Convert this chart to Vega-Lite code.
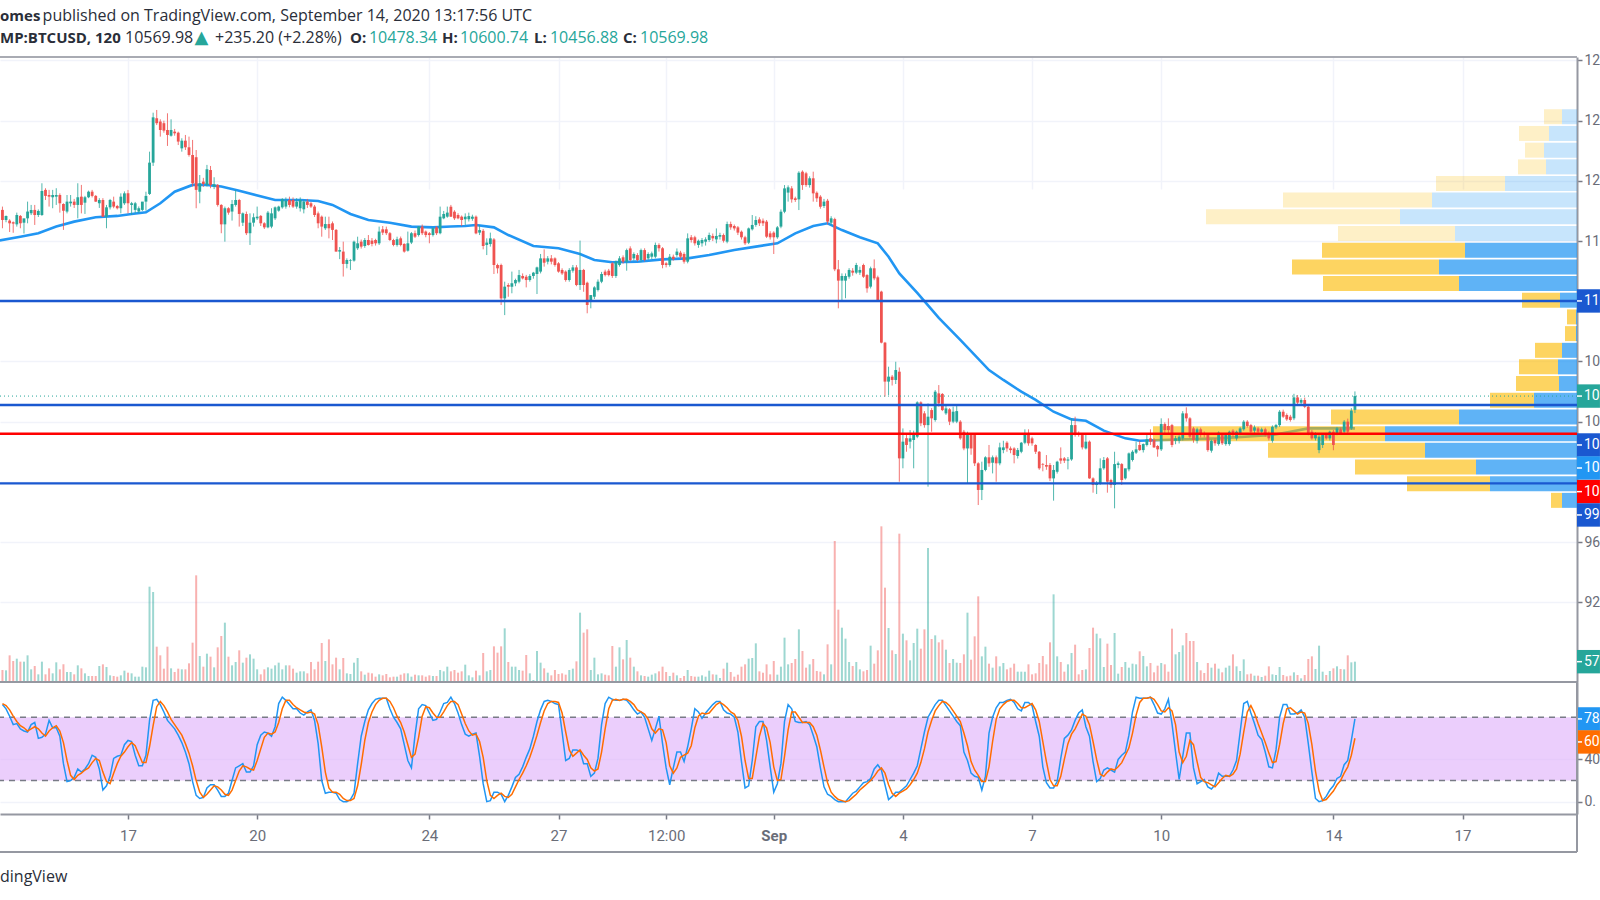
{"$schema":"https://vega.github.io/schema/vega-lite/v6.json","width":1577,"height":757,"autosize":"none","padding":{"left":0,"top":57,"right":23,"bottom":86},"background":"white","config":{"view":{"stroke":null},"font":"Roboto","scale":{"continuousPadding":0}},
"datasets":{
"bars":[
{"t":"2020-08-14T02:00Z","o":11807,"h":11829,"l":11685,"c":11740,"v":36,"k":92,"d":93},
{"t":"2020-08-14T04:00Z","o":11740,"h":11770,"l":11725,"c":11767,"v":35,"k":88,"d":91},
{"t":"2020-08-14T06:00Z","o":11736,"h":11745,"l":11660,"c":11718,"v":80,"k":81,"d":87},
{"t":"2020-08-14T08:00Z","o":11725,"h":11730,"l":11655,"c":11716,"v":63,"k":73,"d":81},
{"t":"2020-08-14T10:00Z","o":11711,"h":11789,"l":11696,"c":11773,"v":70,"k":74,"d":76},
{"t":"2020-08-14T12:00Z","o":11767,"h":11773,"l":11685,"c":11718,"v":61,"k":69,"d":72},
{"t":"2020-08-14T14:00Z","o":11722,"h":11745,"l":11650,"c":11751,"v":61,"k":67,"d":70},
{"t":"2020-08-14T16:00Z","o":11751,"h":11862,"l":11718,"c":11796,"v":80,"k":66,"d":67},
{"t":"2020-08-14T18:00Z","o":11784,"h":11840,"l":11773,"c":11807,"v":38,"k":73,"d":69},
{"t":"2020-08-14T20:00Z","o":11807,"h":11840,"l":11707,"c":11773,"v":48,"k":75,"d":71},
{"t":"2020-08-14T22:00Z","o":11773,"h":11810,"l":11760,"c":11800,"v":23,"k":60,"d":69},
{"t":"2020-08-15T00:00Z","o":11773,"h":11984,"l":11767,"c":11933,"v":61,"k":61,"d":65},
{"t":"2020-08-15T02:00Z","o":11940,"h":11951,"l":11873,"c":11900,"v":23,"k":64,"d":62},
{"t":"2020-08-15T04:00Z","o":11906,"h":11940,"l":11829,"c":11895,"v":41,"k":77,"d":67},
{"t":"2020-08-15T06:00Z","o":11891,"h":11940,"l":11818,"c":11906,"v":26,"k":70,"d":70},
{"t":"2020-08-15T08:00Z","o":11895,"h":11951,"l":11840,"c":11906,"v":59,"k":70,"d":72},
{"t":"2020-08-15T10:00Z","o":11906,"h":11917,"l":11789,"c":11851,"v":38,"k":62,"d":67},
{"t":"2020-08-15T12:00Z","o":11846,"h":11851,"l":11674,"c":11802,"v":53,"k":36,"d":56},
{"t":"2020-08-15T14:00Z","o":11796,"h":11906,"l":11784,"c":11862,"v":30,"k":19,"d":39},
{"t":"2020-08-15T16:00Z","o":11851,"h":11906,"l":11829,"c":11862,"v":30,"k":20,"d":25},
{"t":"2020-08-15T18:00Z","o":11862,"h":11880,"l":11820,"c":11840,"v":23,"k":23,"d":21},
{"t":"2020-08-15T20:00Z","o":11840,"h":11984,"l":11751,"c":11891,"v":50,"k":31,"d":25},
{"t":"2020-08-15T22:00Z","o":11895,"h":11973,"l":11784,"c":11840,"v":41,"k":28,"d":27},
{"t":"2020-08-16T00:00Z","o":11855,"h":11900,"l":11780,"c":11891,"v":26,"k":31,"d":30},
{"t":"2020-08-16T02:00Z","o":11891,"h":11935,"l":11885,"c":11928,"v":18,"k":36,"d":32},
{"t":"2020-08-16T04:00Z","o":11928,"h":11940,"l":11890,"c":11900,"v":18,"k":44,"d":37},
{"t":"2020-08-16T06:00Z","o":11900,"h":11906,"l":11860,"c":11862,"v":18,"k":42,"d":41},
{"t":"2020-08-16T08:00Z","o":11851,"h":11885,"l":11820,"c":11873,"v":48,"k":31,"d":39},
{"t":"2020-08-16T10:00Z","o":11873,"h":11885,"l":11760,"c":11762,"v":53,"k":11,"d":28},
{"t":"2020-08-16T12:00Z","o":11762,"h":11840,"l":11685,"c":11824,"v":45,"k":15,"d":19},
{"t":"2020-08-16T14:00Z","o":11824,"h":11880,"l":11810,"c":11873,"v":20,"k":24,"d":17},
{"t":"2020-08-16T16:00Z","o":11862,"h":11895,"l":11818,"c":11829,"v":18,"k":41,"d":27},
{"t":"2020-08-16T18:00Z","o":11833,"h":11840,"l":11810,"c":11818,"v":16,"k":43,"d":36},
{"t":"2020-08-16T20:00Z","o":11818,"h":11917,"l":11784,"c":11895,"v":20,"k":44,"d":43},
{"t":"2020-08-16T22:00Z","o":11851,"h":11930,"l":11840,"c":11917,"v":34,"k":54,"d":47},
{"t":"2020-08-17T00:00Z","o":11917,"h":11940,"l":11784,"c":11851,"v":28,"k":58,"d":52},
{"t":"2020-08-17T02:00Z","o":11840,"h":11860,"l":11774,"c":11851,"v":26,"k":57,"d":56},
{"t":"2020-08-17T04:00Z","o":11807,"h":11860,"l":11784,"c":11851,"v":16,"k":44,"d":53},
{"t":"2020-08-17T06:00Z","o":11796,"h":11830,"l":11785,"c":11818,"v":16,"k":34,"d":45},
{"t":"2020-08-17T08:00Z","o":11807,"h":11860,"l":11800,"c":11862,"v":46,"k":34,"d":37},
{"t":"2020-08-17T10:00Z","o":11862,"h":11928,"l":11802,"c":11900,"v":44,"k":44,"d":37},
{"t":"2020-08-17T12:00Z","o":11913,"h":12194,"l":11906,"c":12121,"v":286,"k":77,"d":52},
{"t":"2020-08-17T14:00Z","o":12121,"h":12453,"l":12099,"c":12422,"v":270,"k":96,"d":72},
{"t":"2020-08-17T16:00Z","o":12416,"h":12471,"l":12371,"c":12383,"v":106,"k":97,"d":90},
{"t":"2020-08-17T18:00Z","o":12394,"h":12409,"l":12294,"c":12338,"v":80,"k":92,"d":95},
{"t":"2020-08-17T20:00Z","o":12383,"h":12400,"l":12320,"c":12334,"v":40,"k":85,"d":91},
{"t":"2020-08-17T22:00Z","o":12338,"h":12449,"l":12232,"c":12305,"v":106,"k":77,"d":85},
{"t":"2020-08-18T00:00Z","o":12300,"h":12409,"l":12294,"c":12338,"v":41,"k":73,"d":78},
{"t":"2020-08-18T02:00Z","o":12327,"h":12345,"l":12300,"c":12316,"v":30,"k":69,"d":73},
{"t":"2020-08-18T04:00Z","o":12320,"h":12327,"l":12238,"c":12261,"v":40,"k":63,"d":68},
{"t":"2020-08-18T06:00Z","o":12216,"h":12283,"l":12194,"c":12267,"v":38,"k":56,"d":63},
{"t":"2020-08-18T08:00Z","o":12267,"h":12305,"l":12205,"c":12223,"v":38,"k":47,"d":55},
{"t":"2020-08-18T10:00Z","o":12223,"h":12294,"l":12161,"c":12172,"v":56,"k":36,"d":46},
{"t":"2020-08-18T12:00Z","o":12172,"h":12272,"l":11962,"c":11984,"v":118,"k":19,"d":34},
{"t":"2020-08-18T14:00Z","o":12157,"h":12205,"l":11818,"c":11940,"v":320,"k":6,"d":20},
{"t":"2020-08-18T16:00Z","o":11928,"h":12039,"l":11851,"c":11984,"v":78,"k":3,"d":9},
{"t":"2020-08-18T18:00Z","o":11995,"h":12020,"l":11960,"c":11979,"v":46,"k":4,"d":4},
{"t":"2020-08-18T20:00Z","o":11973,"h":12106,"l":11962,"c":12077,"v":85,"k":13,"d":7},
{"t":"2020-08-18T22:00Z","o":12072,"h":12099,"l":11951,"c":11973,"v":76,"k":16,"d":11},
{"t":"2020-08-19T00:00Z","o":11962,"h":12024,"l":11945,"c":11977,"v":44,"k":16,"d":15},
{"t":"2020-08-19T02:00Z","o":11973,"h":11979,"l":11829,"c":11840,"v":104,"k":11,"d":14},
{"t":"2020-08-19T04:00Z","o":11840,"h":11845,"l":11652,"c":11711,"v":138,"k":5,"d":11},
{"t":"2020-08-19T06:00Z","o":11711,"h":11829,"l":11596,"c":11818,"v":178,"k":5,"d":7},
{"t":"2020-08-19T08:00Z","o":11818,"h":11825,"l":11775,"c":11789,"v":76,"k":8,"d":6},
{"t":"2020-08-19T10:00Z","o":11796,"h":11873,"l":11736,"c":11846,"v":50,"k":20,"d":11},
{"t":"2020-08-19T12:00Z","o":11840,"h":11940,"l":11829,"c":11873,"v":60,"k":32,"d":20},
{"t":"2020-08-19T14:00Z","o":11873,"h":11880,"l":11696,"c":11780,"v":95,"k":34,"d":29},
{"t":"2020-08-19T16:00Z","o":11722,"h":11790,"l":11700,"c":11784,"v":58,"k":36,"d":34},
{"t":"2020-08-19T18:00Z","o":11780,"h":11796,"l":11640,"c":11652,"v":73,"k":28,"d":33},
{"t":"2020-08-19T20:00Z","o":11652,"h":11784,"l":11574,"c":11722,"v":83,"k":28,"d":31},
{"t":"2020-08-19T22:00Z","o":11722,"h":11784,"l":11696,"c":11758,"v":70,"k":34,"d":30},
{"t":"2020-08-20T00:00Z","o":11751,"h":11829,"l":11740,"c":11762,"v":38,"k":54,"d":39},
{"t":"2020-08-20T02:00Z","o":11767,"h":11773,"l":11700,"c":11718,"v":23,"k":63,"d":50},
{"t":"2020-08-20T04:00Z","o":11718,"h":11725,"l":11680,"c":11691,"v":38,"k":66,"d":61},
{"t":"2020-08-20T06:00Z","o":11691,"h":11800,"l":11685,"c":11789,"v":44,"k":65,"d":65},
{"t":"2020-08-20T08:00Z","o":11696,"h":11818,"l":11685,"c":11784,"v":40,"k":62,"d":64},
{"t":"2020-08-20T10:00Z","o":11751,"h":11830,"l":11740,"c":11824,"v":50,"k":71,"d":66},
{"t":"2020-08-20T12:00Z","o":11802,"h":11835,"l":11795,"c":11829,"v":58,"k":93,"d":75},
{"t":"2020-08-20T14:00Z","o":11824,"h":11885,"l":11815,"c":11878,"v":38,"k":99,"d":88},
{"t":"2020-08-20T16:00Z","o":11829,"h":11890,"l":11815,"c":11868,"v":50,"k":96,"d":96},
{"t":"2020-08-20T18:00Z","o":11873,"h":11895,"l":11824,"c":11840,"v":50,"k":92,"d":96},
{"t":"2020-08-20T20:00Z","o":11873,"h":11890,"l":11820,"c":11829,"v":40,"k":88,"d":92},
{"t":"2020-08-20T22:00Z","o":11829,"h":11885,"l":11815,"c":11862,"v":28,"k":88,"d":89},
{"t":"2020-08-21T00:00Z","o":11818,"h":11890,"l":11796,"c":11873,"v":32,"k":84,"d":87},
{"t":"2020-08-21T02:00Z","o":11811,"h":11873,"l":11784,"c":11862,"v":32,"k":82,"d":85},
{"t":"2020-08-21T04:00Z","o":11862,"h":11880,"l":11820,"c":11840,"v":26,"k":85,"d":84},
{"t":"2020-08-21T06:00Z","o":11851,"h":11860,"l":11820,"c":11829,"v":60,"k":87,"d":85},
{"t":"2020-08-21T08:00Z","o":11829,"h":11840,"l":11760,"c":11773,"v":38,"k":77,"d":83},
{"t":"2020-08-21T10:00Z","o":11784,"h":11796,"l":11685,"c":11718,"v":61,"k":55,"d":73},
{"t":"2020-08-21T12:00Z","o":11762,"h":11770,"l":11629,"c":11696,"v":117,"k":20,"d":52},
{"t":"2020-08-21T14:00Z","o":11685,"h":11762,"l":11674,"c":11713,"v":63,"k":8,"d":28},
{"t":"2020-08-21T16:00Z","o":11713,"h":11762,"l":11618,"c":11685,"v":128,"k":9,"d":13},
{"t":"2020-08-21T18:00Z","o":11718,"h":11730,"l":11607,"c":11674,"v":53,"k":9,"d":9},
{"t":"2020-08-21T20:00Z","o":11674,"h":11680,"l":11530,"c":11530,"v":73,"k":8,"d":9},
{"t":"2020-08-21T22:00Z","o":11530,"h":11560,"l":11480,"c":11540,"v":38,"k":2,"d":7},
{"t":"2020-08-22T00:00Z","o":11530,"h":11596,"l":11364,"c":11448,"v":72,"k":0,"d":3},
{"t":"2020-08-22T02:00Z","o":11448,"h":11485,"l":11419,"c":11474,"v":26,"k":0,"d":1},
{"t":"2020-08-22T04:00Z","o":11470,"h":11480,"l":11408,"c":11474,"v":24,"k":2,"d":1},
{"t":"2020-08-22T06:00Z","o":11470,"h":11603,"l":11463,"c":11596,"v":58,"k":8,"d":3},
{"t":"2020-08-22T08:00Z","o":11552,"h":11629,"l":11541,"c":11585,"v":72,"k":36,"d":15},
{"t":"2020-08-22T10:00Z","o":11596,"h":11610,"l":11550,"c":11563,"v":32,"k":62,"d":35},
{"t":"2020-08-22T12:00Z","o":11567,"h":11620,"l":11555,"c":11607,"v":22,"k":76,"d":58},
{"t":"2020-08-22T14:00Z","o":11607,"h":11640,"l":11570,"c":11574,"v":28,"k":87,"d":75},
{"t":"2020-08-22T16:00Z","o":11603,"h":11620,"l":11565,"c":11581,"v":26,"k":93,"d":85},
{"t":"2020-08-22T18:00Z","o":11607,"h":11615,"l":11570,"c":11585,"v":16,"k":97,"d":92},
{"t":"2020-08-22T20:00Z","o":11585,"h":11696,"l":11574,"c":11663,"v":23,"k":98,"d":96},
{"t":"2020-08-22T22:00Z","o":11678,"h":11700,"l":11640,"c":11656,"v":20,"k":98,"d":98},
{"t":"2020-08-23T00:00Z","o":11678,"h":11696,"l":11640,"c":11652,"v":24,"k":98,"d":98},
{"t":"2020-08-23T02:00Z","o":11652,"h":11660,"l":11600,"c":11607,"v":14,"k":88,"d":95},
{"t":"2020-08-23T04:00Z","o":11607,"h":11615,"l":11565,"c":11574,"v":16,"k":80,"d":89},
{"t":"2020-08-23T06:00Z","o":11574,"h":11629,"l":11563,"c":11612,"v":16,"k":75,"d":81},
{"t":"2020-08-23T08:00Z","o":11618,"h":11630,"l":11565,"c":11574,"v":22,"k":69,"d":75},
{"t":"2020-08-23T10:00Z","o":11581,"h":11585,"l":11523,"c":11530,"v":26,"k":54,"d":66},
{"t":"2020-08-23T12:00Z","o":11536,"h":11663,"l":11530,"c":11585,"v":26,"k":39,"d":54},
{"t":"2020-08-23T14:00Z","o":11590,"h":11660,"l":11580,"c":11652,"v":16,"k":32,"d":42},
{"t":"2020-08-23T16:00Z","o":11652,"h":11670,"l":11620,"c":11629,"v":22,"k":63,"d":45},
{"t":"2020-08-23T18:00Z","o":11640,"h":11700,"l":11630,"c":11696,"v":20,"k":88,"d":61},
{"t":"2020-08-23T20:00Z","o":11696,"h":11710,"l":11640,"c":11652,"v":20,"k":92,"d":81},
{"t":"2020-08-23T22:00Z","o":11663,"h":11670,"l":11625,"c":11640,"v":16,"k":91,"d":90},
{"t":"2020-08-24T00:00Z","o":11652,"h":11660,"l":11585,"c":11640,"v":20,"k":84,"d":89},
{"t":"2020-08-24T02:00Z","o":11640,"h":11690,"l":11630,"c":11685,"v":18,"k":77,"d":84},
{"t":"2020-08-24T04:00Z","o":11691,"h":11700,"l":11640,"c":11652,"v":18,"k":78,"d":80},
{"t":"2020-08-24T06:00Z","o":11652,"h":11829,"l":11645,"c":11762,"v":36,"k":85,"d":80},
{"t":"2020-08-24T08:00Z","o":11751,"h":11800,"l":11745,"c":11780,"v":32,"k":93,"d":85},
{"t":"2020-08-24T10:00Z","o":11762,"h":11829,"l":11755,"c":11789,"v":46,"k":94,"d":91},
{"t":"2020-08-24T12:00Z","o":11828,"h":11840,"l":11760,"c":11762,"v":32,"k":99,"d":95},
{"t":"2020-08-24T14:00Z","o":11795,"h":11805,"l":11740,"c":11751,"v":36,"k":93,"d":95},
{"t":"2020-08-24T16:00Z","o":11773,"h":11785,"l":11745,"c":11751,"v":28,"k":84,"d":92},
{"t":"2020-08-24T18:00Z","o":11762,"h":11770,"l":11700,"c":11740,"v":32,"k":73,"d":83},
{"t":"2020-08-24T20:00Z","o":11745,"h":11784,"l":11707,"c":11762,"v":52,"k":64,"d":74},
{"t":"2020-08-24T22:00Z","o":11745,"h":11789,"l":11730,"c":11766,"v":20,"k":62,"d":67},
{"t":"2020-08-25T00:00Z","o":11748,"h":11775,"l":11735,"c":11762,"v":14,"k":64,"d":63},
{"t":"2020-08-25T02:00Z","o":11762,"h":11770,"l":11645,"c":11651,"v":34,"k":65,"d":64},
{"t":"2020-08-25T04:00Z","o":11656,"h":11707,"l":11640,"c":11673,"v":20,"k":43,"d":57},
{"t":"2020-08-25T06:00Z","o":11668,"h":11680,"l":11545,"c":11567,"v":87,"k":17,"d":42},
{"t":"2020-08-25T08:00Z","o":11574,"h":11618,"l":11507,"c":11590,"v":32,"k":0,"d":20},
{"t":"2020-08-25T10:00Z","o":11580,"h":11656,"l":11563,"c":11618,"v":36,"k":1,"d":6},
{"t":"2020-08-25T12:00Z","o":11611,"h":11620,"l":11381,"c":11441,"v":107,"k":9,"d":3},
{"t":"2020-08-25T14:00Z","o":11441,"h":11450,"l":11385,"c":11419,"v":88,"k":9,"d":6},
{"t":"2020-08-25T16:00Z","o":11441,"h":11450,"l":11175,"c":11219,"v":107,"k":7,"d":8},
{"t":"2020-08-25T18:00Z","o":11219,"h":11330,"l":11108,"c":11297,"v":161,"k":0,"d":5},
{"t":"2020-08-25T20:00Z","o":11308,"h":11320,"l":11230,"c":11297,"v":60,"k":6,"d":4},
{"t":"2020-08-25T22:00Z","o":11297,"h":11397,"l":11253,"c":11319,"v":46,"k":14,"d":7},
{"t":"2020-08-26T00:00Z","o":11319,"h":11350,"l":11300,"c":11341,"v":46,"k":23,"d":14},
{"t":"2020-08-26T02:00Z","o":11330,"h":11408,"l":11319,"c":11374,"v":36,"k":26,"d":21},
{"t":"2020-08-26T04:00Z","o":11368,"h":11385,"l":11345,"c":11352,"v":34,"k":33,"d":27},
{"t":"2020-08-26T06:00Z","o":11363,"h":11375,"l":11292,"c":11341,"v":81,"k":42,"d":34},
{"t":"2020-08-26T08:00Z","o":11341,"h":11380,"l":11330,"c":11368,"v":26,"k":50,"d":42},
{"t":"2020-08-26T10:00Z","o":11368,"h":11395,"l":11350,"c":11390,"v":6,"k":62,"d":52},
{"t":"2020-08-26T12:00Z","o":11381,"h":11430,"l":11248,"c":11425,"v":93,"k":76,"d":63},
{"t":"2020-08-26T14:00Z","o":11397,"h":11514,"l":11385,"c":11485,"v":58,"k":87,"d":75},
{"t":"2020-08-26T16:00Z","o":11485,"h":11545,"l":11430,"c":11456,"v":41,"k":95,"d":86},
{"t":"2020-08-26T18:00Z","o":11463,"h":11500,"l":11445,"c":11485,"v":28,"k":96,"d":93},
{"t":"2020-08-26T20:00Z","o":11485,"h":11507,"l":11445,"c":11463,"v":20,"k":95,"d":95},
{"t":"2020-08-26T22:00Z","o":11485,"h":11492,"l":11430,"c":11441,"v":36,"k":93,"d":95},
{"t":"2020-08-27T00:00Z","o":11452,"h":11460,"l":11390,"c":11397,"v":24,"k":92,"d":94},
{"t":"2020-08-27T02:00Z","o":11408,"h":11419,"l":11375,"c":11385,"v":26,"k":66,"d":84},
{"t":"2020-08-27T04:00Z","o":11397,"h":11405,"l":11330,"c":11341,"v":22,"k":39,"d":66},
{"t":"2020-08-27T06:00Z","o":11341,"h":11420,"l":11330,"c":11408,"v":36,"k":41,"d":49},
{"t":"2020-08-27T08:00Z","o":11403,"h":11441,"l":11390,"c":11425,"v":40,"k":49,"d":43},
{"t":"2020-08-27T10:00Z","o":11425,"h":11440,"l":11300,"c":11308,"v":62,"k":49,"d":46},
{"t":"2020-08-27T12:00Z","o":11308,"h":11603,"l":11275,"c":11408,"v":208,"k":48,"d":49},
{"t":"2020-08-27T14:00Z","o":11408,"h":11415,"l":11263,"c":11308,"v":148,"k":36,"d":44},
{"t":"2020-08-27T16:00Z","o":11323,"h":11330,"l":11120,"c":11175,"v":158,"k":36,"d":40},
{"t":"2020-08-27T18:00Z","o":11197,"h":11240,"l":11153,"c":11241,"v":36,"k":24,"d":32},
{"t":"2020-08-27T20:00Z","o":11230,"h":11300,"l":11215,"c":11292,"v":73,"k":27,"d":29},
{"t":"2020-08-27T22:00Z","o":11275,"h":11345,"l":11265,"c":11330,"v":23,"k":41,"d":31},
{"t":"2020-08-28T00:00Z","o":11330,"h":11395,"l":11320,"c":11381,"v":26,"k":73,"d":47},
{"t":"2020-08-28T02:00Z","o":11397,"h":11410,"l":11365,"c":11374,"v":22,"k":93,"d":69},
{"t":"2020-08-28T04:00Z","o":11403,"h":11415,"l":11365,"c":11374,"v":20,"k":99,"d":88},
{"t":"2020-08-28T06:00Z","o":11452,"h":11460,"l":11355,"c":11368,"v":108,"k":97,"d":96},
{"t":"2020-08-28T08:00Z","o":11368,"h":11470,"l":11355,"c":11463,"v":46,"k":96,"d":97},
{"t":"2020-08-28T10:00Z","o":11441,"h":11500,"l":11430,"c":11485,"v":104,"k":96,"d":96},
{"t":"2020-08-28T12:00Z","o":11492,"h":11505,"l":11450,"c":11463,"v":68,"k":97,"d":97},
{"t":"2020-08-28T14:00Z","o":11463,"h":11550,"l":11403,"c":11540,"v":126,"k":96,"d":97},
{"t":"2020-08-28T16:00Z","o":11551,"h":11565,"l":11465,"c":11474,"v":73,"k":92,"d":95},
{"t":"2020-08-28T18:00Z","o":11485,"h":11525,"l":11470,"c":11514,"v":46,"k":87,"d":92},
{"t":"2020-08-28T20:00Z","o":11507,"h":11520,"l":11465,"c":11474,"v":32,"k":83,"d":87},
{"t":"2020-08-28T22:00Z","o":11474,"h":11550,"l":11460,"c":11540,"v":20,"k":85,"d":85},
{"t":"2020-08-29T00:00Z","o":11540,"h":11552,"l":11465,"c":11474,"v":18,"k":80,"d":83},
{"t":"2020-08-29T02:00Z","o":11485,"h":11525,"l":11475,"c":11514,"v":16,"k":69,"d":78},
{"t":"2020-08-29T04:00Z","o":11496,"h":11530,"l":11480,"c":11518,"v":22,"k":58,"d":69},
{"t":"2020-08-29T06:00Z","o":11496,"h":11590,"l":11485,"c":11574,"v":26,"k":69,"d":65},
{"t":"2020-08-29T08:00Z","o":11574,"h":11585,"l":11530,"c":11552,"v":32,"k":81,"d":69},
{"t":"2020-08-29T10:00Z","o":11552,"h":11560,"l":11419,"c":11441,"v":46,"k":55,"d":68},
{"t":"2020-08-29T12:00Z","o":11452,"h":11460,"l":11425,"c":11441,"v":30,"k":32,"d":56},
{"t":"2020-08-29T14:00Z","o":11441,"h":11514,"l":11430,"c":11496,"v":18,"k":16,"d":34},
{"t":"2020-08-29T16:00Z","o":11496,"h":11510,"l":11470,"c":11480,"v":28,"k":32,"d":27},
{"t":"2020-08-29T18:00Z","o":11507,"h":11551,"l":11495,"c":11530,"v":20,"k":47,"d":32},
{"t":"2020-08-29T20:00Z","o":11523,"h":11535,"l":11480,"c":11496,"v":12,"k":47,"d":42},
{"t":"2020-08-29T22:00Z","o":11514,"h":11525,"l":11450,"c":11463,"v":18,"k":38,"d":44},
{"t":"2020-08-30T00:00Z","o":11463,"h":11651,"l":11452,"c":11618,"v":36,"k":52,"d":46},
{"t":"2020-08-30T02:00Z","o":11625,"h":11640,"l":11590,"c":11607,"v":18,"k":69,"d":53},
{"t":"2020-08-30T04:00Z","o":11625,"h":11635,"l":11570,"c":11585,"v":16,"k":88,"d":70},
{"t":"2020-08-30T06:00Z","o":11574,"h":11610,"l":11555,"c":11602,"v":16,"k":85,"d":81},
{"t":"2020-08-30T08:00Z","o":11585,"h":11620,"l":11563,"c":11607,"v":20,"k":79,"d":84},
{"t":"2020-08-30T10:00Z","o":11596,"h":11625,"l":11570,"c":11611,"v":16,"k":84,"d":83},
{"t":"2020-08-30T12:00Z","o":11607,"h":11656,"l":11595,"c":11640,"v":34,"k":88,"d":84},
{"t":"2020-08-30T14:00Z","o":11634,"h":11650,"l":11600,"c":11618,"v":23,"k":92,"d":88},
{"t":"2020-08-30T16:00Z","o":11611,"h":11684,"l":11585,"c":11634,"v":22,"k":95,"d":92},
{"t":"2020-08-30T18:00Z","o":11629,"h":11655,"l":11610,"c":11640,"v":12,"k":95,"d":94},
{"t":"2020-08-30T20:00Z","o":11640,"h":11650,"l":11590,"c":11602,"v":40,"k":87,"d":92},
{"t":"2020-08-30T22:00Z","o":11596,"h":11729,"l":11585,"c":11713,"v":58,"k":84,"d":89},
{"t":"2020-08-31T00:00Z","o":11713,"h":11729,"l":11675,"c":11691,"v":30,"k":83,"d":85},
{"t":"2020-08-31T02:00Z","o":11700,"h":11710,"l":11670,"c":11684,"v":16,"k":80,"d":83},
{"t":"2020-08-31T04:00Z","o":11691,"h":11700,"l":11640,"c":11656,"v":22,"k":66,"d":77},
{"t":"2020-08-31T06:00Z","o":11662,"h":11670,"l":11610,"c":11625,"v":46,"k":38,"d":62},
{"t":"2020-08-31T08:00Z","o":11625,"h":11635,"l":11574,"c":11585,"v":53,"k":13,"d":39},
{"t":"2020-08-31T10:00Z","o":11589,"h":11690,"l":11580,"c":11684,"v":70,"k":15,"d":22},
{"t":"2020-08-31T12:00Z","o":11678,"h":11773,"l":11670,"c":11707,"v":72,"k":39,"d":22},
{"t":"2020-08-31T14:00Z","o":11707,"h":11765,"l":11695,"c":11740,"v":116,"k":71,"d":42},
{"t":"2020-08-31T16:00Z","o":11744,"h":11758,"l":11700,"c":11718,"v":32,"k":76,"d":62},
{"t":"2020-08-31T18:00Z","o":11735,"h":11750,"l":11700,"c":11718,"v":28,"k":76,"d":74},
{"t":"2020-08-31T20:00Z","o":11729,"h":11740,"l":11620,"c":11629,"v":53,"k":58,"d":70},
{"t":"2020-08-31T22:00Z","o":11651,"h":11665,"l":11610,"c":11625,"v":23,"k":33,"d":56},
{"t":"2020-09-01T00:00Z","o":11656,"h":11665,"l":11514,"c":11625,"v":63,"k":9,"d":33},
{"t":"2020-09-01T02:00Z","o":11625,"h":11700,"l":11615,"c":11691,"v":22,"k":17,"d":20},
{"t":"2020-09-01T04:00Z","o":11696,"h":11810,"l":11685,"c":11795,"v":46,"k":36,"d":21},
{"t":"2020-09-01T06:00Z","o":11795,"h":11972,"l":11785,"c":11950,"v":133,"k":76,"d":43},
{"t":"2020-09-01T08:00Z","o":11922,"h":11970,"l":11862,"c":11957,"v":53,"k":92,"d":68},
{"t":"2020-09-01T10:00Z","o":11950,"h":11965,"l":11855,"c":11877,"v":57,"k":88,"d":85},
{"t":"2020-09-01T12:00Z","o":11884,"h":11895,"l":11860,"c":11873,"v":69,"k":76,"d":85},
{"t":"2020-09-01T14:00Z","o":11877,"h":12064,"l":11806,"c":12054,"v":158,"k":75,"d":80},
{"t":"2020-09-01T16:00Z","o":12061,"h":12070,"l":11940,"c":11972,"v":93,"k":75,"d":75},
{"t":"2020-09-01T18:00Z","o":12050,"h":12060,"l":11960,"c":11972,"v":43,"k":76,"d":75},
{"t":"2020-09-01T20:00Z","o":11972,"h":12030,"l":11955,"c":12017,"v":53,"k":73,"d":75},
{"t":"2020-09-01T22:00Z","o":12017,"h":12061,"l":11862,"c":11917,"v":69,"k":63,"d":71},
{"t":"2020-09-02T00:00Z","o":11921,"h":11930,"l":11860,"c":11884,"v":33,"k":52,"d":63},
{"t":"2020-09-02T02:00Z","o":11895,"h":11905,"l":11815,"c":11828,"v":31,"k":32,"d":49},
{"t":"2020-09-02T04:00Z","o":11833,"h":11880,"l":11820,"c":11862,"v":23,"k":14,"d":33},
{"t":"2020-09-02T06:00Z","o":11868,"h":11880,"l":11710,"c":11729,"v":113,"k":7,"d":18},
{"t":"2020-09-02T08:00Z","o":11722,"h":11765,"l":11705,"c":11751,"v":53,"k":5,"d":9},
{"t":"2020-09-02T10:00Z","o":11746,"h":11755,"l":11400,"c":11412,"v":423,"k":2,"d":5},
{"t":"2020-09-02T12:00Z","o":11412,"h":11474,"l":11153,"c":11337,"v":217,"k":0,"d":2},
{"t":"2020-09-02T14:00Z","o":11337,"h":11385,"l":11208,"c":11368,"v":163,"k":0,"d":1},
{"t":"2020-09-02T16:00Z","o":11337,"h":11385,"l":11220,"c":11368,"v":130,"k":0,"d":0},
{"t":"2020-09-02T18:00Z","o":11363,"h":11420,"l":11350,"c":11408,"v":60,"k":4,"d":1},
{"t":"2020-09-02T20:00Z","o":11403,"h":11420,"l":11370,"c":11390,"v":48,"k":8,"d":4},
{"t":"2020-09-02T22:00Z","o":11390,"h":11455,"l":11380,"c":11441,"v":60,"k":10,"d":7},
{"t":"2020-09-03T00:00Z","o":11390,"h":11430,"l":11375,"c":11408,"v":38,"k":14,"d":11},
{"t":"2020-09-03T02:00Z","o":11441,"h":11450,"l":11355,"c":11363,"v":32,"k":18,"d":14},
{"t":"2020-09-03T04:00Z","o":11374,"h":11380,"l":11257,"c":11286,"v":36,"k":19,"d":17},
{"t":"2020-09-03T06:00Z","o":11297,"h":11430,"l":11285,"c":11419,"v":109,"k":22,"d":20},
{"t":"2020-09-03T08:00Z","o":11419,"h":11478,"l":11340,"c":11352,"v":55,"k":31,"d":24},
{"t":"2020-09-03T10:00Z","o":11359,"h":11370,"l":11195,"c":11208,"v":95,"k":35,"d":29},
{"t":"2020-09-03T12:00Z","o":11264,"h":11270,"l":10920,"c":10925,"v":467,"k":30,"d":32},
{"t":"2020-09-03T14:00Z","o":10925,"h":10930,"l":10566,"c":10666,"v":283,"k":16,"d":27},
{"t":"2020-09-03T16:00Z","o":10666,"h":10765,"l":10577,"c":10699,"v":162,"k":2,"d":16},
{"t":"2020-09-03T18:00Z","o":10699,"h":10710,"l":10640,"c":10677,"v":95,"k":5,"d":8},
{"t":"2020-09-03T20:00Z","o":10677,"h":10798,"l":10650,"c":10743,"v":84,"k":9,"d":5},
{"t":"2020-09-03T22:00Z","o":10732,"h":10760,"l":10001,"c":10156,"v":445,"k":9,"d":8},
{"t":"2020-09-04T00:00Z","o":10156,"h":10355,"l":10090,"c":10267,"v":145,"k":12,"d":10},
{"t":"2020-09-04T02:00Z","o":10290,"h":10320,"l":10200,"c":10245,"v":125,"k":15,"d":12},
{"t":"2020-09-04T04:00Z","o":10267,"h":10344,"l":10222,"c":10289,"v":65,"k":21,"d":16},
{"t":"2020-09-04T06:00Z","o":10278,"h":10340,"l":10090,"c":10322,"v":117,"k":27,"d":21},
{"t":"2020-09-04T08:00Z","o":10300,"h":10535,"l":10290,"c":10528,"v":160,"k":34,"d":27},
{"t":"2020-09-04T10:00Z","o":10528,"h":10535,"l":10370,"c":10389,"v":100,"k":50,"d":37},
{"t":"2020-09-04T12:00Z","o":10455,"h":10470,"l":10360,"c":10377,"v":158,"k":66,"d":50},
{"t":"2020-09-04T14:00Z","o":10377,"h":10521,"l":9968,"c":10433,"v":402,"k":80,"d":66},
{"t":"2020-09-04T16:00Z","o":10477,"h":10490,"l":10333,"c":10422,"v":129,"k":86,"d":77},
{"t":"2020-09-04T18:00Z","o":10411,"h":10610,"l":10400,"c":10599,"v":140,"k":92,"d":86},
{"t":"2020-09-04T20:00Z","o":10588,"h":10643,"l":10500,"c":10521,"v":119,"k":96,"d":91},
{"t":"2020-09-04T22:00Z","o":10584,"h":10590,"l":10470,"c":10477,"v":127,"k":96,"d":95},
{"t":"2020-09-05T00:00Z","o":10455,"h":10510,"l":10445,"c":10488,"v":97,"k":91,"d":94},
{"t":"2020-09-05T02:00Z","o":10482,"h":10490,"l":10377,"c":10400,"v":57,"k":86,"d":91},
{"t":"2020-09-05T04:00Z","o":10400,"h":10500,"l":10390,"c":10466,"v":69,"k":81,"d":86},
{"t":"2020-09-05T06:00Z","o":10400,"h":10510,"l":10390,"c":10470,"v":58,"k":76,"d":81},
{"t":"2020-09-05T08:00Z","o":10400,"h":10410,"l":10280,"c":10289,"v":57,"k":72,"d":76},
{"t":"2020-09-05T10:00Z","o":10333,"h":10345,"l":10210,"c":10222,"v":83,"k":47,"d":65},
{"t":"2020-09-05T12:00Z","o":10222,"h":10333,"l":9990,"c":10311,"v":208,"k":39,"d":53},
{"t":"2020-09-05T14:00Z","o":10311,"h":10320,"l":10180,"c":10222,"v":67,"k":27,"d":38},
{"t":"2020-09-05T16:00Z","o":10311,"h":10320,"l":10105,"c":10123,"v":137,"k":24,"d":30},
{"t":"2020-09-05T18:00Z","o":10123,"h":10130,"l":9846,"c":9946,"v":257,"k":23,"d":25},
{"t":"2020-09-05T20:00Z","o":9946,"h":10134,"l":9879,"c":10079,"v":77,"k":11,"d":19},
{"t":"2020-09-05T22:00Z","o":10079,"h":10170,"l":10070,"c":10163,"v":106,"k":24,"d":19},
{"t":"2020-09-06T00:00Z","o":10163,"h":10245,"l":10100,"c":10123,"v":55,"k":65,"d":33},
{"t":"2020-09-06T02:00Z","o":10127,"h":10175,"l":10056,"c":10163,"v":43,"k":80,"d":57},
{"t":"2020-09-06T04:00Z","o":10163,"h":10175,"l":10001,"c":10123,"v":77,"k":89,"d":78},
{"t":"2020-09-06T06:00Z","o":10123,"h":10260,"l":10110,"c":10229,"v":47,"k":94,"d":88},
{"t":"2020-09-06T08:00Z","o":10211,"h":10273,"l":10190,"c":10229,"v":57,"k":94,"d":92},
{"t":"2020-09-06T10:00Z","o":10260,"h":10270,"l":10200,"c":10222,"v":38,"k":96,"d":95},
{"t":"2020-09-06T12:00Z","o":10222,"h":10235,"l":10190,"c":10211,"v":43,"k":97,"d":96},
{"t":"2020-09-06T14:00Z","o":10222,"h":10230,"l":10123,"c":10178,"v":55,"k":94,"d":96},
{"t":"2020-09-06T16:00Z","o":10172,"h":10225,"l":10155,"c":10211,"v":31,"k":88,"d":93},
{"t":"2020-09-06T18:00Z","o":10200,"h":10265,"l":10190,"c":10260,"v":31,"k":86,"d":89},
{"t":"2020-09-06T20:00Z","o":10260,"h":10349,"l":10250,"c":10322,"v":31,"k":94,"d":89},
{"t":"2020-09-06T22:00Z","o":10322,"h":10349,"l":10240,"c":10256,"v":53,"k":94,"d":91},
{"t":"2020-09-07T00:00Z","o":10289,"h":10300,"l":10240,"c":10256,"v":23,"k":91,"d":93},
{"t":"2020-09-07T02:00Z","o":10245,"h":10250,"l":10185,"c":10200,"v":26,"k":76,"d":87},
{"t":"2020-09-07T04:00Z","o":10200,"h":10205,"l":10080,"c":10090,"v":57,"k":62,"d":76},
{"t":"2020-09-07T06:00Z","o":10116,"h":10125,"l":10070,"c":10112,"v":78,"k":33,"d":57},
{"t":"2020-09-07T08:00Z","o":10112,"h":10178,"l":10080,"c":10101,"v":53,"k":18,"d":38},
{"t":"2020-09-07T10:00Z","o":10112,"h":10125,"l":10005,"c":10023,"v":119,"k":13,"d":21},
{"t":"2020-09-07T12:00Z","o":10023,"h":10112,"l":9875,"c":10079,"v":263,"k":13,"d":15},
{"t":"2020-09-07T14:00Z","o":10067,"h":10140,"l":10055,"c":10134,"v":77,"k":19,"d":15},
{"t":"2020-09-07T16:00Z","o":10156,"h":10229,"l":10120,"c":10141,"v":60,"k":41,"d":24},
{"t":"2020-09-07T18:00Z","o":10156,"h":10165,"l":10125,"c":10141,"v":31,"k":60,"d":40},
{"t":"2020-09-07T20:00Z","o":10141,"h":10165,"l":10083,"c":10149,"v":53,"k":63,"d":55},
{"t":"2020-09-07T22:00Z","o":10149,"h":10422,"l":10140,"c":10377,"v":87,"k":68,"d":64},
{"t":"2020-09-08T00:00Z","o":10377,"h":10433,"l":10300,"c":10311,"v":112,"k":77,"d":69},
{"t":"2020-09-08T02:00Z","o":10322,"h":10335,"l":10300,"c":10311,"v":23,"k":84,"d":76},
{"t":"2020-09-08T04:00Z","o":10311,"h":10320,"l":10215,"c":10229,"v":36,"k":87,"d":83},
{"t":"2020-09-08T06:00Z","o":10222,"h":10311,"l":10215,"c":10267,"v":38,"k":71,"d":81},
{"t":"2020-09-08T08:00Z","o":10267,"h":10275,"l":10020,"c":10023,"v":102,"k":62,"d":73},
{"t":"2020-09-08T10:00Z","o":10023,"h":10030,"l":9928,"c":9979,"v":163,"k":38,"d":57},
{"t":"2020-09-08T12:00Z","o":9979,"h":10005,"l":9919,"c":9990,"v":145,"k":19,"d":40},
{"t":"2020-09-08T14:00Z","o":9990,"h":10156,"l":9980,"c":10090,"v":131,"k":22,"d":26},
{"t":"2020-09-08T16:00Z","o":10090,"h":10165,"l":10080,"c":10145,"v":45,"k":30,"d":24},
{"t":"2020-09-08T18:00Z","o":10156,"h":10165,"l":9928,"c":10001,"v":115,"k":32,"d":28},
{"t":"2020-09-08T20:00Z","o":10012,"h":10020,"l":9960,"c":9979,"v":51,"k":30,"d":31},
{"t":"2020-09-08T22:00Z","o":9979,"h":10200,"l":9824,"c":10118,"v":147,"k":28,"d":30},
{"t":"2020-09-09T00:00Z","o":10112,"h":10135,"l":10090,"c":10123,"v":25,"k":40,"d":33},
{"t":"2020-09-09T02:00Z","o":10118,"h":10125,"l":9979,"c":10012,"v":45,"k":44,"d":37},
{"t":"2020-09-09T04:00Z","o":10023,"h":10085,"l":10015,"c":10090,"v":60,"k":47,"d":44},
{"t":"2020-09-09T06:00Z","o":10083,"h":10195,"l":10070,"c":10189,"v":43,"k":63,"d":51},
{"t":"2020-09-09T08:00Z","o":10145,"h":10210,"l":10135,"c":10200,"v":55,"k":85,"d":65},
{"t":"2020-09-09T10:00Z","o":10194,"h":10267,"l":10185,"c":10216,"v":53,"k":99,"d":82},
{"t":"2020-09-09T12:00Z","o":10245,"h":10273,"l":10205,"c":10211,"v":92,"k":98,"d":94},
{"t":"2020-09-09T14:00Z","o":10211,"h":10255,"l":10195,"c":10251,"v":78,"k":98,"d":98},
{"t":"2020-09-09T16:00Z","o":10245,"h":10311,"l":10235,"c":10282,"v":47,"k":98,"d":98},
{"t":"2020-09-09T18:00Z","o":10289,"h":10349,"l":10245,"c":10267,"v":57,"k":99,"d":99},
{"t":"2020-09-09T20:00Z","o":10278,"h":10290,"l":10225,"c":10229,"v":29,"k":92,"d":97},
{"t":"2020-09-09T22:00Z","o":10238,"h":10245,"l":10167,"c":10216,"v":49,"k":84,"d":92},
{"t":"2020-09-10T00:00Z","o":10216,"h":10422,"l":10205,"c":10384,"v":57,"k":83,"d":86},
{"t":"2020-09-10T02:00Z","o":10384,"h":10395,"l":10320,"c":10344,"v":53,"k":88,"d":85},
{"t":"2020-09-10T04:00Z","o":10371,"h":10422,"l":10320,"c":10344,"v":31,"k":97,"d":89},
{"t":"2020-09-10T06:00Z","o":10377,"h":10385,"l":10230,"c":10245,"v":160,"k":74,"d":86},
{"t":"2020-09-10T08:00Z","o":10273,"h":10305,"l":10250,"c":10289,"v":83,"k":47,"d":73},
{"t":"2020-09-10T10:00Z","o":10273,"h":10310,"l":10255,"c":10300,"v":90,"k":21,"d":47},
{"t":"2020-09-10T12:00Z","o":10289,"h":10470,"l":10275,"c":10455,"v":110,"k":43,"d":37},
{"t":"2020-09-10T14:00Z","o":10455,"h":10495,"l":10400,"c":10422,"v":147,"k":65,"d":43},
{"t":"2020-09-10T16:00Z","o":10422,"h":10430,"l":10290,"c":10300,"v":123,"k":65,"d":58},
{"t":"2020-09-10T18:00Z","o":10355,"h":10365,"l":10260,"c":10278,"v":123,"k":32,"d":54},
{"t":"2020-09-10T20:00Z","o":10273,"h":10360,"l":10255,"c":10349,"v":60,"k":17,"d":38},
{"t":"2020-09-10T22:00Z","o":10349,"h":10360,"l":10295,"c":10311,"v":35,"k":19,"d":23},
{"t":"2020-09-11T00:00Z","o":10322,"h":10335,"l":10295,"c":10311,"v":27,"k":21,"d":19},
{"t":"2020-09-11T02:00Z","o":10311,"h":10320,"l":10200,"c":10211,"v":57,"k":14,"d":18},
{"t":"2020-09-11T04:00Z","o":10207,"h":10280,"l":10194,"c":10273,"v":43,"k":12,"d":16},
{"t":"2020-09-11T06:00Z","o":10278,"h":10290,"l":10240,"c":10256,"v":55,"k":16,"d":14},
{"t":"2020-09-11T08:00Z","o":10251,"h":10335,"l":10240,"c":10327,"v":40,"k":27,"d":18},
{"t":"2020-09-11T10:00Z","o":10311,"h":10320,"l":10245,"c":10256,"v":29,"k":24,"d":22},
{"t":"2020-09-11T12:00Z","o":10251,"h":10320,"l":10240,"c":10311,"v":43,"k":24,"d":25},
{"t":"2020-09-11T14:00Z","o":10251,"h":10340,"l":10240,"c":10333,"v":49,"k":24,"d":24},
{"t":"2020-09-11T16:00Z","o":10340,"h":10350,"l":10300,"c":10311,"v":83,"k":30,"d":26},
{"t":"2020-09-11T18:00Z","o":10289,"h":10340,"l":10275,"c":10333,"v":47,"k":39,"d":31},
{"t":"2020-09-11T20:00Z","o":10322,"h":10365,"l":10310,"c":10355,"v":33,"k":66,"d":45},
{"t":"2020-09-11T22:00Z","o":10349,"h":10410,"l":10340,"c":10400,"v":68,"k":93,"d":66},
{"t":"2020-09-12T00:00Z","o":10400,"h":10410,"l":10360,"c":10371,"v":23,"k":95,"d":85},
{"t":"2020-09-12T02:00Z","o":10377,"h":10385,"l":10320,"c":10333,"v":25,"k":84,"d":91},
{"t":"2020-09-12T04:00Z","o":10340,"h":10375,"l":10325,"c":10362,"v":19,"k":74,"d":84},
{"t":"2020-09-12T06:00Z","o":10355,"h":10365,"l":10320,"c":10333,"v":19,"k":63,"d":74},
{"t":"2020-09-12T08:00Z","o":10333,"h":10360,"l":10320,"c":10349,"v":15,"k":59,"d":65},
{"t":"2020-09-12T10:00Z","o":10349,"h":10360,"l":10300,"c":10311,"v":19,"k":47,"d":56},
{"t":"2020-09-12T12:00Z","o":10322,"h":10335,"l":10275,"c":10289,"v":47,"k":33,"d":46},
{"t":"2020-09-12T14:00Z","o":10273,"h":10375,"l":10260,"c":10366,"v":23,"k":32,"d":37},
{"t":"2020-09-12T16:00Z","o":10362,"h":10385,"l":10350,"c":10377,"v":21,"k":49,"d":38},
{"t":"2020-09-12T18:00Z","o":10377,"h":10477,"l":10365,"c":10466,"v":45,"k":80,"d":54},
{"t":"2020-09-12T20:00Z","o":10466,"h":10480,"l":10425,"c":10433,"v":21,"k":92,"d":74},
{"t":"2020-09-12T22:00Z","o":10444,"h":10455,"l":10405,"c":10415,"v":17,"k":92,"d":88},
{"t":"2020-09-13T00:00Z","o":10433,"h":10445,"l":10400,"c":10411,"v":19,"k":83,"d":89},
{"t":"2020-09-13T02:00Z","o":10422,"h":10585,"l":10410,"c":10561,"v":29,"k":83,"d":86},
{"t":"2020-09-13T04:00Z","o":10561,"h":10577,"l":10505,"c":10526,"v":21,"k":84,"d":83},
{"t":"2020-09-13T06:00Z","o":10526,"h":10555,"l":10510,"c":10544,"v":11,"k":87,"d":85},
{"t":"2020-09-13T08:00Z","o":10544,"h":10560,"l":10490,"c":10499,"v":21,"k":80,"d":84},
{"t":"2020-09-13T10:00Z","o":10499,"h":10510,"l":10310,"c":10322,"v":69,"k":55,"d":74},
{"t":"2020-09-13T12:00Z","o":10333,"h":10345,"l":10280,"c":10289,"v":77,"k":28,"d":54},
{"t":"2020-09-13T14:00Z","o":10289,"h":10330,"l":10275,"c":10311,"v":39,"k":3,"d":29},
{"t":"2020-09-13T16:00Z","o":10211,"h":10310,"l":10190,"c":10300,"v":109,"k":0,"d":10},
{"t":"2020-09-13T18:00Z","o":10245,"h":10320,"l":10225,"c":10311,"v":31,"k":1,"d":1},
{"t":"2020-09-13T20:00Z","o":10311,"h":10325,"l":10280,"c":10289,"v":21,"k":5,"d":2},
{"t":"2020-09-13T22:00Z","o":10289,"h":10340,"l":10275,"c":10333,"v":33,"k":11,"d":6},
{"t":"2020-09-14T00:00Z","o":10333,"h":10345,"l":10210,"c":10245,"v":41,"k":15,"d":10},
{"t":"2020-09-14T02:00Z","o":10322,"h":10365,"l":10310,"c":10355,"v":47,"k":22,"d":16},
{"t":"2020-09-14T04:00Z","o":10349,"h":10360,"l":10315,"c":10322,"v":39,"k":24,"d":20},
{"t":"2020-09-14T06:00Z","o":10333,"h":10410,"l":10325,"c":10400,"v":38,"k":35,"d":27},
{"t":"2020-09-14T08:00Z","o":10400,"h":10420,"l":10320,"c":10333,"v":80,"k":39,"d":33},
{"t":"2020-09-14T10:00Z","o":10355,"h":10490,"l":10345,"c":10473,"v":59,"k":58,"d":44},
{"t":"2020-09-14T12:00Z","o":10478.34,"h":10600.74,"l":10456.88,"c":10569.98,"v":61,"k":78.35,"d":60.07}
],
"ma":[
{"t":"2020-08-14T00:00Z","p":11603},{"t":"2020-08-14T12:00Z","p":11629},{"t":"2020-08-14T22:00Z","p":11652},{"t":"2020-08-15T08:00Z","p":11696},{"t":"2020-08-15T18:00Z","p":11729},{"t":"2020-08-16T06:00Z","p":11758},{"t":"2020-08-16T18:00Z","p":11767},{"t":"2020-08-17T02:00Z","p":11780},{"t":"2020-08-17T10:00Z","p":11791},{"t":"2020-08-17T18:00Z","p":11851},{"t":"2020-08-18T02:00Z","p":11928},{"t":"2020-08-18T12:00Z","p":11973},{"t":"2020-08-18T20:00Z","p":11973},{"t":"2020-08-19T04:00Z","p":11962},{"t":"2020-08-19T14:00Z","p":11935},{"t":"2020-08-20T04:00Z","p":11891},{"t":"2020-08-20T10:00Z","p":11873},{"t":"2020-08-21T00:00Z","p":11873},{"t":"2020-08-21T10:00Z","p":11866},{"t":"2020-08-21T18:00Z","p":11840},{"t":"2020-08-22T04:00Z","p":11780},{"t":"2020-08-22T14:00Z","p":11740},{"t":"2020-08-23T02:00Z","p":11722},{"t":"2020-08-23T14:00Z","p":11696},{"t":"2020-08-24T02:00Z","p":11691},{"t":"2020-08-24T12:00Z","p":11697},{"t":"2020-08-24T20:00Z","p":11700},{"t":"2020-08-25T02:00Z","p":11707},{"t":"2020-08-25T12:00Z","p":11691},{"t":"2020-08-25T20:00Z","p":11640},{"t":"2020-08-26T10:00Z","p":11567},{"t":"2020-08-27T00:00Z","p":11552},{"t":"2020-08-27T12:00Z","p":11514},{"t":"2020-08-27T20:00Z","p":11474},{"t":"2020-08-28T06:00Z","p":11459},{"t":"2020-08-28T20:00Z","p":11463},{"t":"2020-08-29T10:00Z","p":11478},{"t":"2020-08-30T00:00Z","p":11485},{"t":"2020-08-30T12:00Z","p":11507},{"t":"2020-08-31T02:00Z","p":11540},{"t":"2020-08-31T14:00Z","p":11563},{"t":"2020-09-01T02:00Z","p":11585},{"t":"2020-09-01T12:00Z","p":11651},{"t":"2020-09-01T22:00Z","p":11700},{"t":"2020-09-02T06:00Z","p":11718},{"t":"2020-09-02T14:00Z","p":11673},{"t":"2020-09-03T00:00Z","p":11625},{"t":"2020-09-03T10:00Z","p":11585},{"t":"2020-09-03T16:00Z","p":11496},{"t":"2020-09-03T22:00Z","p":11385},{"t":"2020-09-04T08:00Z","p":11255},{"t":"2020-09-04T20:00Z","p":11089},{"t":"2020-09-05T08:00Z","p":10943},{"t":"2020-09-06T00:00Z","p":10743},{"t":"2020-09-06T08:00Z","p":10677},{"t":"2020-09-06T18:00Z","p":10599},{"t":"2020-09-07T02:00Z","p":10544},{"t":"2020-09-07T12:00Z","p":10466},{"t":"2020-09-07T22:00Z","p":10415},{"t":"2020-09-08T06:00Z","p":10406},{"t":"2020-09-08T16:00Z","p":10340},{"t":"2020-09-09T04:00Z","p":10289},{"t":"2020-09-09T12:00Z","p":10273},{"t":"2020-09-10T00:00Z","p":10278},{"t":"2020-09-11T08:00Z","p":10289},{"t":"2020-09-12T14:00Z","p":10311},{"t":"2020-09-13T00:00Z","p":10333},{"t":"2020-09-13T10:00Z","p":10355},{"t":"2020-09-14T12:00Z","p":10355}
],
"vp":[
{"p":12426,"total":33,"sell":15,"far":true},{"p":12315,"total":58,"sell":28,"far":true},{"p":12204,"total":52,"sell":33,"far":true},{"p":12093,"total":59,"sell":31,"far":true},{"p":11983,"total":141,"sell":72,"far":true},{"p":11872,"total":294,"sell":145,"far":true},{"p":11761,"total":371,"sell":177,"far":true},{"p":11650,"total":239,"sell":122,"far":true},{"p":11539,"total":255,"sell":112,"far":false},{"p":11428,"total":285,"sell":138,"far":false},{"p":11318,"total":254,"sell":118,"far":false},{"p":11207,"total":55,"sell":17,"far":false},{"p":11096,"total":10,"sell":1,"far":false},{"p":10985,"total":12,"sell":1,"far":false},{"p":10874,"total":42,"sell":15,"far":false},{"p":10764,"total":58,"sell":19,"far":false},{"p":10653,"total":61,"sell":18,"far":false},{"p":10542,"total":87,"sell":43,"far":false},{"p":10431,"total":246,"sell":118,"far":false},{"p":10320,"total":424,"sell":192,"far":false},{"p":10210,"total":309,"sell":152,"far":false},{"p":10099,"total":222,"sell":101,"far":false},{"p":9988,"total":170,"sell":87,"far":false},{"p":9877,"total":26,"sell":15,"far":false}
],
"levels":[{"p":11202,"kind":"level"},{"p":10511,"kind":"level"},{"p":9990,"kind":"level"},{"p":10320,"kind":"pivot"}],
"last":[{"p":10569.98}],
"paneTop":[{"p":12823}],
"priceTags":[{"at":11202,"label":"11","kind":"level"},{"at":10570,"label":"10","kind":"last"},{"at":10245,"label":"10","kind":"level"},{"at":10092,"label":"10","kind":"ma"},{"at":9935,"label":"10","kind":"pivot"},{"at":9780,"label":"99","kind":"level"}],
"volTag":[{"at":61,"label":"57"}],
"rsiTags":[{"at":78.4,"label":"78","kind":"k"},{"at":56.6,"label":"60","kind":"d"}],
"header":[
{"t":"2020-08-14T00:38Z","p":13096,"label":"omes","kind":"bold"},
{"t":"2020-08-15T00:23Z","p":13096,"label":"published on TradingView.com, September 14, 2020 13:17:56 UTC","kind":"plain"},
{"t":"2020-08-14T00:38Z","p":12950,"label":"MP:BTCUSD, 120","kind":"bold"},
{"t":"2020-08-16T22:20Z","p":12950,"label":"10569.98","kind":"plain"},
{"t":"2020-08-18T13:00Z","p":12950,"label":"▲","kind":"mark"},
{"t":"2020-08-19T00:32Z","p":12950,"label":"+235.20 (+2.28%)","kind":"plain"},
{"t":"2020-08-22T03:44Z","p":12950,"label":"O:","kind":"bold"},
{"t":"2020-08-22T14:20Z","p":12950,"label":"10478.34","kind":"teal"},
{"t":"2020-08-24T07:02Z","p":12950,"label":"H:","kind":"bold"},
{"t":"2020-08-24T17:02Z","p":12950,"label":"10600.74","kind":"teal"},
{"t":"2020-08-26T10:20Z","p":12950,"label":"L:","kind":"bold"},
{"t":"2020-08-26T19:14Z","p":12950,"label":"10456.88","kind":"teal"},
{"t":"2020-08-28T11:56Z","p":12950,"label":"C:","kind":"bold"},
{"t":"2020-08-28T21:26Z","p":12950,"label":"10569.98","kind":"teal"}
],
"footer":[{"t":"2020-08-14T00:38Z","r":-71,"label":"dingView"}],
"bands":[{"hi":80,"lo":20}],
"bandEdges":[{"r":80},{"r":20}],
"frame":[{"r":113.4},{"r":-47.6}],
"rightEdge":[{"from":113.4,"to":-47.6}]
},
"resolve":{"scale":{"x":"independent","y":"independent"}},
"layer":[
{"data":{"name":"bars"},"layer":[
{"mark":{"type":"bar","size":2,"orient":"vertical","opacity":0.45},"encoding":{
"x":{"field":"t","type":"temporal","axis":null,"scale":{"type":"utc","domain":["2020-08-14T00:38:00Z","2020-09-19T15:48:00Z"],"nice":false}},
"y":{"field":"v","type":"quantitative","stack":null,"axis":null,"scale":{"domain":[0,1875],"range":[625,0],"nice":false}},
"color":{"condition":{"test":"datum.c>=datum.o","value":"#26a69a"},"value":"#ef5350"}}}
]},
{"data":{"name":"ma"},"layer":[
{"mark":{"type":"line","color":"#2196f3","strokeWidth":2.6},"encoding":{
"x":{"field":"t","type":"temporal","axis":null,"scale":{"type":"utc","domain":["2020-08-14T00:38:00Z","2020-09-19T15:48:00Z"],"nice":false}},
"y":{"field":"p","type":"quantitative","scale":{"domain":[8670,12823],"range":[625,0],"nice":false,"zero":false},"axis":{"orient":"right","title":null,"values":[9200,9600,10000,10400,10800,11200,11600,12000,12400,12800],"format":"d","labelExpr":"datum.value==11200||datum.value==10000 ? '' : slice(datum.label,0,2)","grid":true,"gridColor":"#f1f3fa","gridWidth":1.5,"domainColor":"#9598a1","domainWidth":2,"tickColor":"#787b86","tickSize":5,"tickWidth":1.5,"labelColor":"#6a6d78","labelFontSize":14,"labelPadding":2,"labelOverlap":false,"labelBound":false,"labelFlush":false}}}}
]},
{"data":{"name":"vp"},"layer":[
{"mark":{"type":"bar","size":15,"orient":"horizontal","color":"#fcb900"},"encoding":{
"x":{"field":"total","type":"quantitative","axis":null,"scale":{"domain":[1577,0],"nice":false,"zero":false}},
"x2":{"field":"sell"},
"y":{"field":"p","type":"quantitative","axis":null,"scale":{"domain":[8670,12823],"range":[625,0],"nice":false,"zero":false}},
"opacity":{"condition":{"test":"datum.far","value":0.22},"value":0.62}}},
{"mark":{"type":"bar","size":15,"orient":"horizontal","color":"#2196f3"},"encoding":{
"x":{"field":"sell","type":"quantitative"},
"x2":{"datum":0},
"y":{"field":"p","type":"quantitative"},
"opacity":{"condition":{"test":"datum.far","value":0.25},"value":0.72}}}
]},
{"layer":[
{"data":{"name":"bars"},"mark":{"type":"rule","strokeWidth":1,"opacity":0.8},"encoding":{
"x":{"field":"t","type":"temporal","axis":null,"scale":{"type":"utc","domain":["2020-08-14T00:38:00Z","2020-09-19T15:48:00Z"],"nice":false}},
"y":{"field":"l","type":"quantitative","axis":null,"scale":{"domain":[8670,12823],"range":[625,0],"nice":false,"zero":false}},
"y2":{"field":"h"},
"color":{"condition":{"test":"datum.c>=datum.o","value":"#26a69a"},"value":"#ef5350"}}},
{"data":{"name":"bars"},"mark":{"type":"bar","size":2.8,"orient":"vertical"},"encoding":{
"x":{"field":"t","type":"temporal"},
"y":{"field":"o","type":"quantitative"},
"y2":{"field":"c"},
"color":{"condition":{"test":"datum.c>=datum.o","value":"#26a69a"},"value":"#ef5350"}}},
{"data":{"name":"last"},"mark":{"type":"rule","color":"#26a69a","strokeWidth":1,"strokeDash":[1,3]},"encoding":{"y":{"field":"p","type":"quantitative"}}},
{"data":{"name":"levels"},"mark":{"type":"rule","strokeWidth":2.4},"encoding":{"y":{"field":"p","type":"quantitative"},"color":{"field":"kind","type":"nominal","legend":null,"scale":{"domain":["level","pivot","last","ma","k","d"],"range":["#1a58d0","#ff0000","#26a69a","#2196f3","#2196f3","#ff6d00"]}}}},
{"data":{"name":"paneTop"},"mark":{"type":"rule","color":"#a9abb3","strokeWidth":2},"encoding":{"y":{"field":"p","type":"quantitative"}}},
{"data":{"name":"priceTags"},"mark":{"type":"bar","size":23.4,"orient":"horizontal"},"encoding":{
"x":{"datum":{"year":2020,"month":9,"date":19,"hours":15,"minutes":48,"utc":true},"type":"temporal"},"x2":{"datum":{"year":2020,"month":9,"date":20,"hours":4,"minutes":36,"utc":true}},
"y":{"field":"at","type":"quantitative"},
"color":{"field":"kind","type":"nominal","legend":null,"scale":{"domain":["level","pivot","last","ma","k","d"],"range":["#1a58d0","#ff0000","#26a69a","#2196f3","#2196f3","#ff6d00"]}}}},
{"data":{"name":"priceTags"},"mark":{"type":"rule","color":"white","strokeWidth":1.5},"encoding":{
"x":{"datum":{"year":2020,"month":9,"date":19,"hours":15,"minutes":48,"utc":true},"type":"temporal"},"x2":{"datum":{"year":2020,"month":9,"date":19,"hours":18,"minutes":35,"utc":true}},
"y":{"field":"at","type":"quantitative"}}},
{"data":{"name":"priceTags"},"mark":{"type":"text","color":"white","align":"left","baseline":"middle","fontSize":14},"encoding":{
"x":{"datum":{"year":2020,"month":9,"date":19,"hours":19,"minutes":42,"utc":true},"type":"temporal"},
"y":{"field":"at","type":"quantitative"},"text":{"field":"label"}}},
{"data":{"name":"header"},"transform":[{"filter":"datum.kind=='plain'"}],"mark":{"type":"text","align":"left","baseline":"middle","fontSize":16,"font":"Open Sans","color":"#2a2e39"},"encoding":{
"x":{"field":"t","type":"temporal"},"y":{"field":"p","type":"quantitative"},"text":{"field":"label"}}},
{"data":{"name":"header"},"transform":[{"filter":"datum.kind=='bold'"}],"mark":{"type":"text","align":"left","baseline":"middle","fontSize":15,"font":"Open Sans","fontWeight":"bold","color":"#2a2e39"},"encoding":{
"x":{"field":"t","type":"temporal"},"y":{"field":"p","type":"quantitative"},"text":{"field":"label"}}},
{"data":{"name":"header"},"transform":[{"filter":"datum.kind=='teal'"}],"mark":{"type":"text","align":"left","baseline":"middle","fontSize":16,"font":"Open Sans","color":"#26a69a"},"encoding":{
"x":{"field":"t","type":"temporal"},"y":{"field":"p","type":"quantitative"},"text":{"field":"label"}}},
{"data":{"name":"header"},"transform":[{"filter":"datum.kind=='mark'"}],"mark":{"type":"text","align":"left","baseline":"middle","fontSize":18,"font":"DejaVu Sans","color":"#26a69a"},"encoding":{
"x":{"field":"t","type":"temporal"},"y":{"field":"p","type":"quantitative"},"text":{"field":"label"}}}
]},
{"layer":[
{"data":{"name":"volTag"},"mark":{"type":"bar","size":23.4,"orient":"horizontal","color":"#26a69a"},"encoding":{
"x":{"datum":{"year":2020,"month":9,"date":19,"hours":15,"minutes":48,"utc":true},"type":"temporal","axis":null,"scale":{"type":"utc","domain":["2020-08-14T00:38:00Z","2020-09-19T15:48:00Z"],"nice":false}},"x2":{"datum":{"year":2020,"month":9,"date":20,"hours":4,"minutes":36,"utc":true}},
"y":{"field":"at","type":"quantitative","axis":null,"scale":{"domain":[0,1875],"range":[625,0],"nice":false}}}},
{"data":{"name":"volTag"},"mark":{"type":"rule","color":"white","strokeWidth":1.5},"encoding":{
"x":{"datum":{"year":2020,"month":9,"date":19,"hours":15,"minutes":48,"utc":true},"type":"temporal"},"x2":{"datum":{"year":2020,"month":9,"date":19,"hours":18,"minutes":35,"utc":true}},
"y":{"field":"at","type":"quantitative"}}},
{"data":{"name":"volTag"},"mark":{"type":"text","color":"white","align":"left","baseline":"middle","fontSize":14},"encoding":{
"x":{"datum":{"year":2020,"month":9,"date":19,"hours":19,"minutes":42,"utc":true},"type":"temporal"},
"y":{"field":"at","type":"quantitative"},"text":{"field":"label"}}}
]},
{"layer":[
{"data":{"name":"bands"},"mark":{"type":"rect","color":"#e0b3fb","opacity":0.65},"encoding":{
"y":{"field":"hi","type":"quantitative","scale":{"domain":[-11.7,113.4],"range":[757,625],"nice":false,"zero":false},"axis":{"orient":"right","title":null,"values":[0,40],"format":".2f","labelExpr":"slice(datum.label,0,2)","grid":true,"gridColor":"#f1f3fa","gridWidth":1.5,"domainColor":"#9598a1","domainWidth":2,"tickColor":"#787b86","tickSize":5,"tickWidth":1.5,"labelColor":"#6a6d78","labelFontSize":14,"labelPadding":2,"labelOverlap":false,"labelBound":false}},
"y2":{"field":"lo"}}},
{"data":{"name":"bandEdges"},"mark":{"type":"rule","color":"#787b86","strokeWidth":1.4,"strokeDash":[6,5]},"encoding":{"y":{"field":"r","type":"quantitative"}}},
{"data":{"name":"bars"},"mark":{"type":"line","color":"#2196f3","strokeWidth":1.5},"encoding":{
"x":{"field":"t","type":"temporal","scale":{"type":"utc","domain":["2020-08-14T00:38:00Z","2020-09-19T15:48:00Z"],"nice":false},"axis":{"title":null,"orient":"bottom","values":["2020-08-17T00:00:00Z","2020-08-20T00:00:00Z","2020-08-24T00:00:00Z","2020-08-27T00:00:00Z","2020-08-29T12:00:00Z","2020-09-01T00:00:00Z","2020-09-04T00:00:00Z","2020-09-07T00:00:00Z","2020-09-10T00:00:00Z","2020-09-14T00:00:00Z","2020-09-17T00:00:00Z"],"labelExpr":"utchours(datum.value)==12 ? '12:00' : utcdate(datum.value)==1 ? 'Sep' : utcdate(datum.value)+''","labelFontWeight":{"condition":{"test":"utcdate(datum.value)==1","value":"bold"},"value":"normal"},"grid":true,"gridColor":"#f1f3fa","gridWidth":1.5,"domainColor":"#9598a1","domainWidth":2,"tickColor":"#787b86","tickSize":5,"tickWidth":1.5,"labelColor":"#6a6d78","labelFontSize":15,"labelPadding":9,"labelOverlap":false,"labelFlush":false}},
"y":{"field":"k","type":"quantitative"}}},
{"data":{"name":"bars"},"mark":{"type":"line","color":"#ff6d00","strokeWidth":1.5},"encoding":{
"x":{"field":"t","type":"temporal"},"y":{"field":"d","type":"quantitative"}}},
{"data":{"name":"rsiTags"},"mark":{"type":"bar","size":23.4,"orient":"horizontal"},"encoding":{
"x":{"datum":{"year":2020,"month":9,"date":19,"hours":15,"minutes":48,"utc":true},"type":"temporal"},"x2":{"datum":{"year":2020,"month":9,"date":20,"hours":4,"minutes":36,"utc":true}},
"y":{"field":"at","type":"quantitative"},
"color":{"field":"kind","type":"nominal","legend":null,"scale":{"domain":["level","pivot","last","ma","k","d"],"range":["#1a58d0","#ff0000","#26a69a","#2196f3","#2196f3","#ff6d00"]}}}},
{"data":{"name":"rsiTags"},"mark":{"type":"rule","color":"white","strokeWidth":1.5},"encoding":{
"x":{"datum":{"year":2020,"month":9,"date":19,"hours":15,"minutes":48,"utc":true},"type":"temporal"},"x2":{"datum":{"year":2020,"month":9,"date":19,"hours":18,"minutes":35,"utc":true}},
"y":{"field":"at","type":"quantitative"}}},
{"data":{"name":"rsiTags"},"mark":{"type":"text","color":"white","align":"left","baseline":"middle","fontSize":14},"encoding":{
"x":{"datum":{"year":2020,"month":9,"date":19,"hours":19,"minutes":42,"utc":true},"type":"temporal"},
"y":{"field":"at","type":"quantitative"},"text":{"field":"label"}}},
{"data":{"name":"frame"},"mark":{"type":"rule","color":"#9598a1","strokeWidth":2},"encoding":{"y":{"field":"r","type":"quantitative"}}},
{"data":{"name":"rightEdge"},"mark":{"type":"rule","color":"#9598a1","strokeWidth":2},"encoding":{
"x":{"datum":{"year":2020,"month":9,"date":19,"hours":15,"minutes":48,"utc":true},"type":"temporal"},
"y":{"field":"from","type":"quantitative"},"y2":{"field":"to"}}},
{"data":{"name":"footer"},"mark":{"type":"text","align":"left","baseline":"middle","fontSize":16,"font":"Open Sans","color":"#2a2e39"},"encoding":{
"x":{"field":"t","type":"temporal"},"y":{"field":"r","type":"quantitative"},"text":{"field":"label"}}}
]}
]}
